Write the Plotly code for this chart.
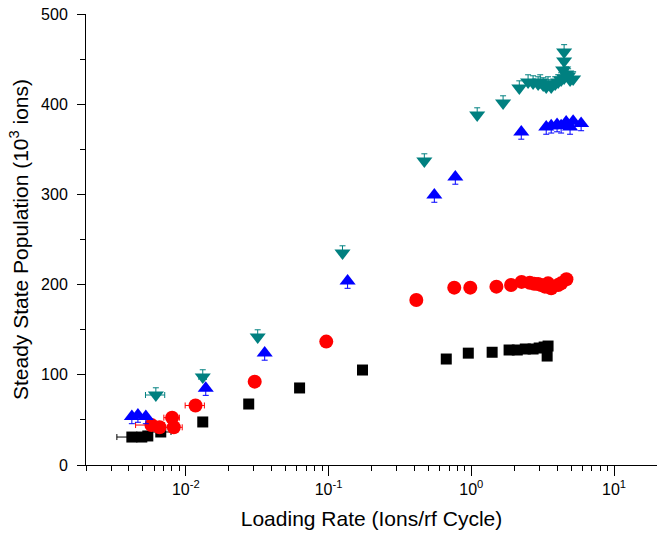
import plotly.graph_objects as go

# ---------------- data ----------------
# Black squares
black_x = [0.00419, 0.00492, 0.00542, 0.00668, 0.01315, 0.0276, 0.0627, 0.173,
           0.668, 0.953, 1.40, 1.84, 2.10, 2.39, 2.71, 2.99, 3.24, 3.45, 3.40]
black_y = [31.0, 31.0, 32.2, 36.6, 47.7, 67.6, 85.4, 105.3,
           117.5, 124.0, 125.0, 127.5, 127.5, 128.6, 128.6, 129.7, 130.8, 131.9, 120.8]
black_xerr = [0.0009, 0, 0, 0.0012, 0, 0, 0, 0, 0, 0, 0, 0, 0, 0, 0, 0, 0, 0, 0]

# Red circles
red_x = [0.00575, 0.00655, 0.00802, 0.00824, 0.01170, 0.0304, 0.0964, 0.412,
         0.760, 0.984, 1.50, 1.90, 2.25, 2.57, 2.76, 2.94, 3.09, 3.28, 3.45, 3.63,
         4.06, 4.26, 4.64]
red_y = [44.3, 41.8, 52.5, 41.8, 66.0, 92.4, 136.8, 182.9,
         196.6, 196.6, 197.7, 199.5, 203.0, 202.0, 201.0, 200.7, 199.6, 197.7, 201.4, 196.0,
         199.6, 201.4, 206.0]
red_xerr = [0.0013, 0, 0.001, 0.0012, 0.0018, 0, 0, 0,
            0, 0, 0, 0, 0, 0, 0, 0, 0, 0, 0, 0, 0, 0, 0]

# Blue up-triangles
blue_x = [0.00419, 0.00462, 0.00525, 0.0138, 0.0357, 0.136, 0.551, 0.773,
          2.24, 3.35, 3.63, 3.99, 4.26, 4.62, 4.92, 5.17, 5.88]
blue_y = [53.8, 55.4, 53.8, 85.2, 124.2, 203.9, 299.3, 319.3,
          369.2, 374.7, 376.0, 377.4, 376.0, 380.2, 374.7, 381.0, 378.6]

# Teal down-triangles
teal_x = [0.00617, 0.01315, 0.0319, 0.1253, 0.469, 1.10, 1.67, 2.17,
          2.50, 2.71, 2.94, 3.04, 3.19, 3.35, 3.45, 3.63, 3.87, 4.06, 4.26,
          4.40, 4.47, 4.47, 4.47, 4.62, 4.77, 4.92, 5.17]
teal_y = [77.6, 97.6, 141.9, 235.0, 337.0, 388.0, 401.3, 417.9,
          424.6, 423.5, 422.4, 424.6, 421.3, 419.0, 422.4, 419.1, 422.4, 424.6, 426.8,
          438.0, 429.0, 448.0, 458.0, 433.5, 431.3, 426.8, 428.0]
teal_xerr = [0.00095, 0.0008] + [0] * 25

x_tickvals = [0.01, 0.1, 1, 10]
x_ticktext = ["10<sup>-2</sup>", "10<sup>-1</sup>", "10<sup>0</sup>", "10<sup>1</sup>"]
x_minor = [m * d for d in [0.001, 0.01, 0.1, 1, 10] for m in range(2, 10)]
y_tickvals = [0, 100, 200, 300, 400, 500]

# ---------------- figure ----------------
fig = go.Figure()

fig.add_trace(go.Scatter(
    x=black_x, y=black_y, mode="markers",
    marker=dict(symbol="square", size=11, color="#000000"),
    error_x=dict(type="data", array=black_xerr, color="#000000", thickness=1, width=3),
    showlegend=False, cliponaxis=False))

fig.add_trace(go.Scatter(
    x=red_x, y=red_y, mode="markers",
    marker=dict(symbol="circle", size=14, color="#FF0000"),
    error_x=dict(type="data", array=red_xerr, color="#FF0000", thickness=1, width=3),
    showlegend=False, cliponaxis=False))

fig.add_trace(go.Scatter(
    x=blue_x, y=blue_y, mode="markers",
    marker=dict(symbol="triangle-up", size=14, color="#0000FF"),
    error_y=dict(type="constant", symmetric=False, value=0, valueminus=8,
                 color="#0000FF", thickness=1, width=3),
    showlegend=False, cliponaxis=False))

fig.add_trace(go.Scatter(
    x=teal_x, y=teal_y, mode="markers",
    marker=dict(symbol="triangle-down", size=14, color="#008080"),
    error_x=dict(type="data", array=teal_xerr, color="#008080", thickness=1, width=3),
    error_y=dict(type="constant", symmetric=False, value=8, valueminus=0,
                 color="#008080", thickness=1, width=3),
    showlegend=False, cliponaxis=False))

font_family = "Liberation Sans, Arial, sans-serif"

fig.update_layout(
    width=657, height=541,
    margin=dict(l=86, r=0, t=14, b=76),
    paper_bgcolor="white", plot_bgcolor="white",
    font=dict(family=font_family, size=16, color="#000000"),
    xaxis=dict(
        type="log", range=[-2.699, 1.301],
        tickmode="array", tickvals=x_tickvals, ticktext=x_ticktext,
        ticks="outside", ticklen=10, tickwidth=1, tickcolor="#000000",
        showline=True, linecolor="#000000", linewidth=1,
        showgrid=False, zeroline=False,
        minor=dict(tickmode="array", tickvals=x_minor, ticks="outside",
                   ticklen=5, tickwidth=1, tickcolor="#000000", showgrid=False),
        tickfont=dict(size=16),
        title=dict(text="Loading Rate (Ions/rf Cycle)", font=dict(size=21), standoff=14),
    ),
    yaxis=dict(
        range=[0, 500],
        tickmode="array", tickvals=y_tickvals,
        ticks="outside", ticklen=8, tickwidth=1, tickcolor="#000000",
        showline=True, linecolor="#000000", linewidth=1,
        showgrid=False, zeroline=False,
        ticklabelstandoff=6,
        minor=dict(dtick=50, ticks="outside", ticklen=5, tickwidth=1,
                   tickcolor="#000000", showgrid=False),
        tickfont=dict(size=16),
        title=dict(text="Steady State Population (10<sup>3</sup> ions)",
                   font=dict(size=21), standoff=6),
    ),
)

fig.write_html("out.html")
